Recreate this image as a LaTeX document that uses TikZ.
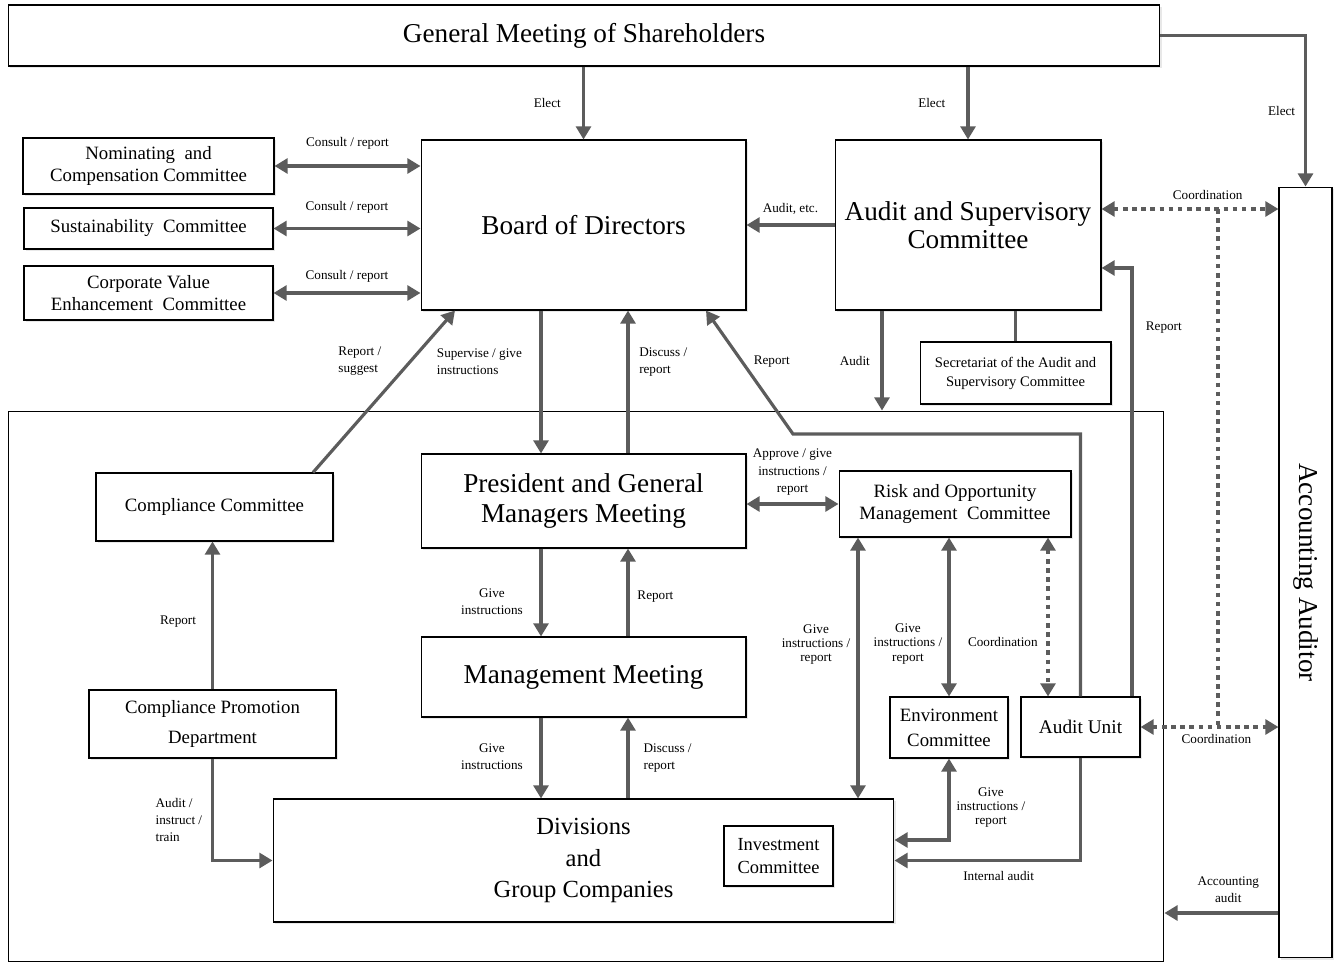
\documentclass[tikz,border=0pt]{standalone}
\usepackage{fontspec}
\setmainfont{Liberation Serif}
\usepackage{graphicx}
\usepackage{xcolor}
\usetikzlibrary{arrows.meta}
\usetikzlibrary{shadows}

\definecolor{arrgray}{RGB}{92,92,92}

\tikzset{
  box/.style={draw, line width=0.6pt, fill=white, align=center, inner sep=2pt,
    drop shadow={shadow xshift=1.3pt, shadow yshift=-1.3pt, opacity=0.18}},
  bigtxt/.style={font=\fontsize{15.5}{17.6}\selectfont},
  midtxt/.style={font=\fontsize{10.7}{13}\selectfont},
  lbl/.style={font=\fontsize{7.5}{9.6}\selectfont, inner sep=1pt, align=center},
  tightlbl/.style={lbl, font=\fontsize{7.5}{8}\selectfont},
  arr/.style={draw=arrgray, line width=1.8pt, -{Triangle[length=7.5pt,width=8.5pt]}},
  twoarr/.style={arr, {Triangle[length=7.5pt,width=8.5pt]}-{Triangle[length=7.5pt,width=8.5pt]}},
  dotarr/.style={twoarr, dash pattern=on 2.6pt off 2.6pt},
  plain/.style={draw=arrgray, line width=1.8pt},
}

\begin{document}
\begin{tikzpicture}[x=0.02cm, y=-0.02cm]

        \useasboundingbox (0,0) rectangle (1339,963);

        % Executive frame
        \node[draw, line width=0.6pt, minimum width=23.12cm, minimum height=11.02cm, inner sep=0pt] (frame) at (586,686.5) {};

        % Top level
        \node[box, bigtxt, minimum width=23.04cm, minimum height=1.22cm] (gms) at (584,35.5) {General Meeting of Shareholders};
        \node[box, bigtxt, minimum width=6.5cm, minimum height=3.4cm] (bod) at (583.5,225) {Board of Directors};
        \node[box, font=\fontsize{15.5}{16.2}\selectfont, minimum width=5.32cm, minimum height=3.4cm] (asc) at (968,225) {Audit and Supervisory\\Committee};
        \node[box, bigtxt, minimum width=1.06cm, minimum height=15.42cm] (aa) at (1305.5,572.5) {\rotatebox{-90}{Accounting Auditor}};
        \node[box, font=\fontsize{8.3}{10.8}\selectfont, minimum width=3.82cm, minimum height=1.24cm] (sec) at (1015.5,373) {Secretariat of the Audit and\\Supervisory Committee};

        % Committees of the board
        \node[box, midtxt, minimum width=5.02cm, minimum height=1.12cm] (nom) at (148.5,166) {Nominating\ \ and\\Compensation Committee};
        \node[box, midtxt, minimum width=4.98cm, minimum height=0.82cm] (sus) at (148.5,228.5) {Sustainability\ \ Committee};
        \node[box, font=\fontsize{10.7}{12.5}\selectfont, minimum width=4.98cm, minimum height=1.08cm] (cve) at (148.5,293) {Corporate Value\\Enhancement\ \ Committee};

        % Executive side
        \node[box, midtxt, minimum width=4.74cm, minimum height=1.36cm] (cc) at (214.5,507) {Compliance Committee};
        \node[box, bigtxt, minimum width=6.5cm, minimum height=1.88cm] (pgm) at (583.5,501) {President and General\\Managers Meeting};
        \node[box, font=\fontsize{10.7}{12.5}\selectfont, minimum width=4.64cm, minimum height=1.32cm] (rom) at (955,504) {Risk and Opportunity\\Management\ \ Committee};
        \node[box, bigtxt, minimum width=6.5cm, minimum height=1.6cm] (mm) at (583.5,677) {Management Meeting};
        \node[box, font=\fontsize{10.7}{17}\selectfont, minimum width=4.94cm, minimum height=1.36cm] (cpd) at (212.5,724) {Compliance Promotion\\Department};
        \node[box, font=\fontsize{10.7}{14.2}\selectfont, minimum width=2.36cm, minimum height=1.22cm] (env) at (949,727.5) {Environment\\Committee};
        \node[box, font=\fontsize{11}{13}\selectfont, minimum width=2.38cm, minimum height=1.2cm] (au) at (1080.5,727) {Audit Unit};
        \node[box, font=\fontsize{14}{18}\selectfont, minimum width=12.42cm, minimum height=2.46cm] (dgc) at (583.5,860.5) {Divisions\\and\\Group Companies};
        \node[box, font=\fontsize{10.5}{13.6}\selectfont, minimum width=2.18cm, minimum height=1.2cm] (inv) at (778.5,856) {Investment\\Committee};

        % Columns and bends
        \coordinate (xl) at (541,0);
        \coordinate (xr) at (628,0);
        \coordinate (xa) at (882,0);
        \coordinate (xu) at (1132,0);
        \coordinate (xg) at (858,0);
        \coordinate (xc) at (1048,0);
        \coordinate (xd) at (1218,209);
        \coordinate (cs) at (313,0);
        \coordinate (ce) at (455,0);
        \coordinate (re) at (706,0);
        \coordinate (rr) at (793,434);
        \coordinate (ya) at (0,913);

        % Elect
        \draw[arr] (gms.south -| bod.north) -- node[lbl, left=11pt] {Elect} (bod.north);
        \draw[arr] (gms.south -| asc.north) -- node[lbl, left=11pt] {Elect} (asc.north);
        \draw[arr] (gms.east) -| node[lbl, pos=0.75, left=4pt] {Elect} (aa.north);

        % Board committees
        \draw[twoarr] (nom.east) -- node[lbl, above=7.5pt] {Consult / report} (nom.east -| bod.west);
        \draw[twoarr] (sus.east) -- node[lbl, above=7pt] {Consult / report} (sus.east -| bod.west);
        \draw[twoarr] (cve.east) -- node[lbl, above=4pt] {Consult / report} (cve.east -| bod.west);

        % Audit and supervisory side
        \draw[arr] (asc.west) -- node[lbl, above=4pt] {Audit, etc.} (bod.east);
        \draw[arr] (asc.south -| xa) -- node[lbl, left=5pt] {Audit} (frame.north -| xa);
        \draw[plain] (asc.south -| sec.north) -- (sec.north);
        \draw[arr] (au.north -| xu) |- node[lbl, pos=0.43, right=6pt] {Report} ([yshift=-0.86cm]asc.east);
        \draw[arr] (au.north) |- (rr) -- node[lbl, pos=0.59, right=5pt] {Report} (bod.south -| re);

        % Coordination with the accounting auditor
        \draw[dotarr] (asc.east |- xd) -- node[lbl, pos=0.6, above=3.5pt] {Coordination} (aa.west |- xd);
        \draw[plain, dash pattern=on 2.6pt off 2.6pt] (xd) -- (xd |- au.east);
        \draw[dotarr] (au.east) -- node[lbl, pos=0.55, below=2pt] {Coordination} (au.east -| aa.west);
        \draw[arr] (aa.west |- ya) -- node[lbl, pos=0.44, above=4pt] {Accounting\\audit} (frame.east |- ya);

        % Board and president
        \draw[arr] (bod.south -| xl) -- node[lbl, pos=0.36, left=9pt, align=left] {Supervise / give\\instructions} (pgm.north -| xl);
        \draw[arr] (pgm.north -| xr) -- node[lbl, pos=0.64, right=4.5pt, align=left] {Discuss /\\report} (bod.south -| xr);
        \draw[arr] (cc.north -| cs) -- node[lbl, pos=0.69, left=15pt, align=left] {Report /\\suggest} (bod.south -| ce);

        % President, management meeting and divisions
        \draw[twoarr] (pgm.east |- rom.west) -- node[lbl, above=3pt, font=\fontsize{7.5}{10}\selectfont] {Approve / give\\instructions /\\report} (rom.west);
        \draw[arr] (pgm.south -| xl) -- node[lbl, pos=0.6, left=8.5pt] {Give\\instructions} (mm.north -| xl);
        \draw[arr] (mm.north -| xr) -- node[lbl, pos=0.45, right=3.5pt] {Report} (pgm.south -| xr);
        \draw[arr] (mm.south -| xl) -- node[lbl, pos=0.48, left=8.5pt] {Give\\instructions} (dgc.north -| xl);
        \draw[arr] (dgc.north -| xr) -- node[lbl, pos=0.5, right=7pt, align=left] {Discuss /\\report} (mm.south -| xr);

        % Compliance
        \draw[arr] (cpd.north) -- node[lbl, pos=0.46, left=7.5pt] {Report} (cpd.north |- cc.south);
        \draw[arr] (cpd.south) |- node[lbl, pos=0.3, left=4pt, align=left] {Audit /\\instruct /\\train} (dgc.west);

        % Risk and opportunity
        \draw[twoarr] (rom.south -| xg) -- node[tightlbl, pos=0.41, left=2.5pt] {Give\\instructions /\\report} (dgc.north -| xg);
        \draw[twoarr] (rom.south -| env.north) -- node[tightlbl, pos=0.67, left=2pt] {Give\\instructions /\\report} (env.north);
        \draw[dotarr] (rom.south -| xc) -- node[lbl, pos=0.66, left=4pt] {Coordination} (au.north -| xc);
        \draw[twoarr] (env.south) |- node[tightlbl, pos=0.3, right=2.5pt] {Give\\instructions /\\report} ([yshift=0.41cm]dgc.east);
        \draw[arr] (au.south) |- node[lbl, pos=0.72, below=4.5pt] {Internal audit} (dgc.east);

\end{tikzpicture}
\end{document}
